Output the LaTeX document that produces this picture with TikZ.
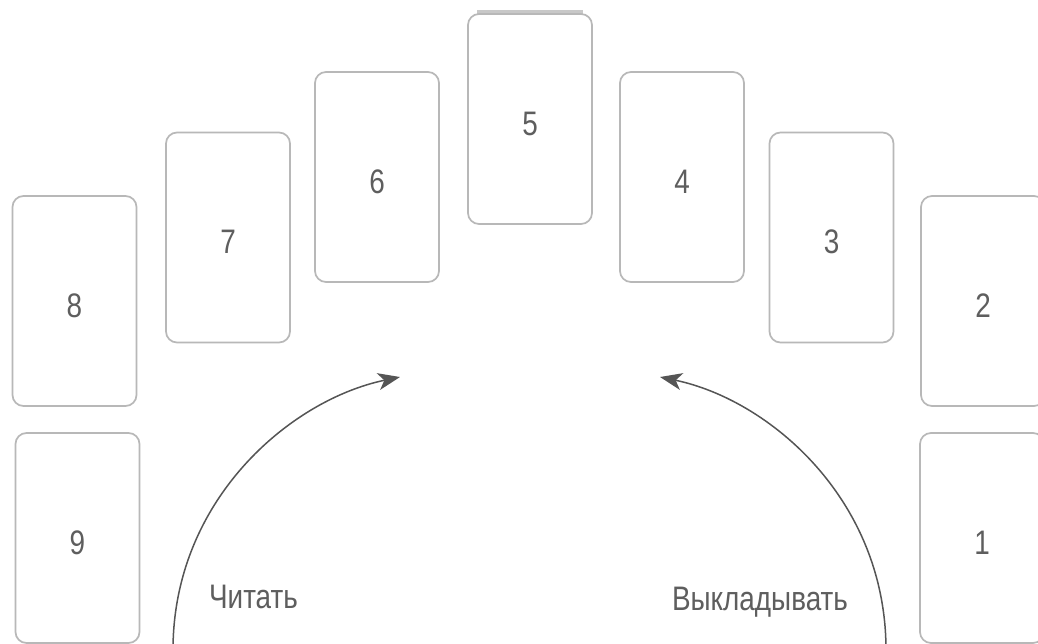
\documentclass[tikz,border=0pt]{standalone}
\usepackage{fontspec}
\newfontfamily\lblfont{Liberation Sans}[FakeStretch=0.82]
\usetikzlibrary{arrows.meta}
\definecolor{cardline}{HTML}{B8B8B8}
\definecolor{cardtop}{HTML}{C8C8C8}
\definecolor{ink}{HTML}{555555}
\definecolor{txt}{HTML}{5E5E5E}
\tikzset{
  card/.style={draw=cardline, line width=1.7pt, rounded corners=11pt,
    minimum width=124pt, minimum height=210pt, inner sep=0pt,
    text height=32.5pt, text depth=0pt,
    text=txt, font=\lblfont\fontsize{34}{38}\selectfont},
  lbl/.style={text=txt, anchor=base, inner sep=0pt, font=\lblfont\fontsize{34}{38}\selectfont},
  flow/.style={draw=ink, line width=1.5pt, -{Stealth[length=22pt,width=17pt,inset=6pt]}}
}
\begin{document}
\begin{tikzpicture}[x=1pt,y=-1pt]
\useasboundingbox (0,0) rectangle (1038,644);
\clip (0,0) rectangle (1038,644);
\fill[white] (0,0) rectangle (1038,644);
% cards
\node[card] (c8) at (74.5,301) {8};
\node[card] (c9) at (77.5,538) {9};
\node[card] (c7) at (228,237.5) {7};
\node[card] (c6) at (377,177) {6};
\fill[cardtop] (477,10) rectangle (583,14.5);
\node[card] (c5) at (530,119) {5};
\node[card] (c4) at (682,177) {4};
\node[card] (c3) at (831.5,237.5) {3};
\node[card] (c2) at (983,301) {2};
\node[card] (c1) at (982,538) {1};
% arrows
\coordinate (ls) at (173,650);
\coordinate (le) at (400,377);
\coordinate (rs) at (886,650);
\coordinate (re) at (660,377);
\draw[flow] (ls) .. controls (173,500) and (290,400) .. (le);
\draw[flow] (rs) .. controls (886,500) and (770,400) .. (re);
% labels
\node[lbl] (read) at (253.5,608) {Читать};
\node[lbl] (lay) at (760,610) {Выкладывать};
\end{tikzpicture}
\end{document}
